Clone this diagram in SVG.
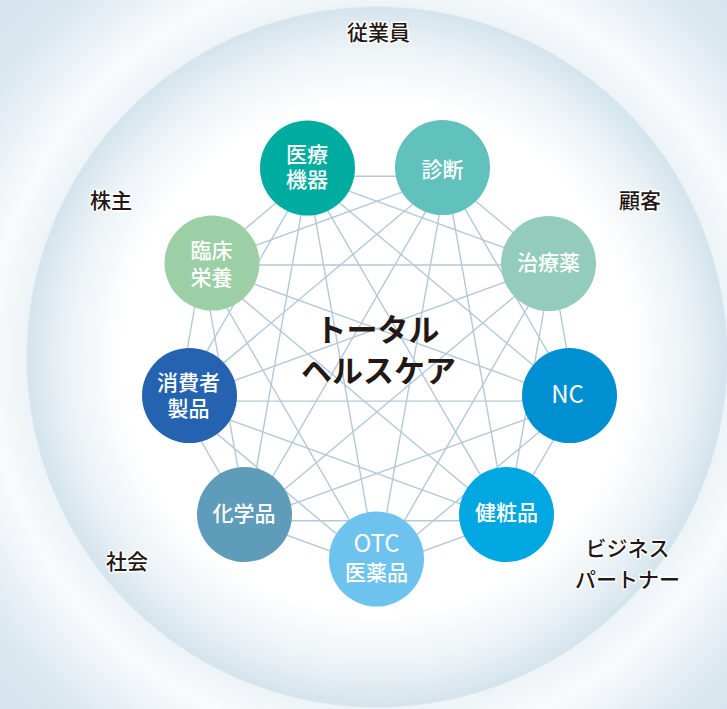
<svg xmlns="http://www.w3.org/2000/svg" width="727" height="709" viewBox="0 0 727 709">
<defs>
<radialGradient id="bg" gradientUnits="userSpaceOnUse" cx="377" cy="357" r="520">
<stop offset="0" stop-color="#ffffff"/>
<stop offset="0.49" stop-color="#ffffff"/>
<stop offset="0.6" stop-color="#ebf2f6"/>
<stop offset="0.672" stop-color="#d4e4ed"/>
<stop offset="0.675" stop-color="#edf3f7"/>
<stop offset="0.745" stop-color="#f9fbfd"/>
<stop offset="0.9" stop-color="#dae7ef"/>
<stop offset="1" stop-color="#d6e4ed"/>
</radialGradient>
<style>
.ln{stroke:#b3c9d7;stroke-width:1.4;fill:none}
.nt{font-family:"Noto Sans CJK JP","Noto Sans",sans-serif;font-size:21px;font-weight:500;fill:#ffffff;text-anchor:middle}
.lat{font-size:24px;font-weight:400}
.lb{font-family:"Noto Sans CJK JP","Noto Sans",sans-serif;font-size:21px;font-weight:500;fill:#231815;stroke:#ffffff;stroke-width:3;paint-order:stroke;stroke-linejoin:round;text-anchor:middle}
.ct{font-family:"Noto Sans CJK JP","Noto Sans",sans-serif;font-size:31px;font-weight:700;fill:#231815;text-anchor:middle}
</style>
</defs>
<rect x="0" y="0" width="727" height="709" fill="url(#bg)"/>

<g id="connectors">
<line class="ln" x1="307.9" y1="176.2" x2="446.1" y2="176.2"/>
<line class="ln" x1="307.9" y1="176.2" x2="551.9" y2="265"/>
<line class="ln" x1="307.9" y1="176.2" x2="575.9" y2="401.1"/>
<line class="ln" x1="307.9" y1="176.2" x2="506.8" y2="520.7"/>
<line class="ln" x1="307.9" y1="176.2" x2="377" y2="568"/>
<line class="ln" x1="307.9" y1="176.2" x2="247.2" y2="520.7"/>
<line class="ln" x1="307.9" y1="176.2" x2="178.1" y2="401.1"/>
<line class="ln" x1="307.9" y1="176.2" x2="202.1" y2="265"/>
<line class="ln" x1="446.1" y1="176.2" x2="551.9" y2="265"/>
<line class="ln" x1="446.1" y1="176.2" x2="575.9" y2="401.1"/>
<line class="ln" x1="446.1" y1="176.2" x2="506.8" y2="520.7"/>
<line class="ln" x1="446.1" y1="176.2" x2="377" y2="568"/>
<line class="ln" x1="446.1" y1="176.2" x2="247.2" y2="520.7"/>
<line class="ln" x1="446.1" y1="176.2" x2="178.1" y2="401.1"/>
<line class="ln" x1="446.1" y1="176.2" x2="202.1" y2="265"/>
<line class="ln" x1="551.9" y1="265" x2="575.9" y2="401.1"/>
<line class="ln" x1="551.9" y1="265" x2="506.8" y2="520.7"/>
<line class="ln" x1="551.9" y1="265" x2="377" y2="568"/>
<line class="ln" x1="551.9" y1="265" x2="247.2" y2="520.7"/>
<line class="ln" x1="551.9" y1="265" x2="178.1" y2="401.1"/>
<line class="ln" x1="551.9" y1="265" x2="202.1" y2="265"/>
<line class="ln" x1="575.9" y1="401.1" x2="506.8" y2="520.7"/>
<line class="ln" x1="575.9" y1="401.1" x2="377" y2="568"/>
<line class="ln" x1="575.9" y1="401.1" x2="247.2" y2="520.7"/>
<line class="ln" x1="575.9" y1="401.1" x2="178.1" y2="401.1"/>
<line class="ln" x1="575.9" y1="401.1" x2="202.1" y2="265"/>
<line class="ln" x1="506.8" y1="520.7" x2="377" y2="568"/>
<line class="ln" x1="506.8" y1="520.7" x2="247.2" y2="520.7"/>
<line class="ln" x1="506.8" y1="520.7" x2="178.1" y2="401.1"/>
<line class="ln" x1="506.8" y1="520.7" x2="202.1" y2="265"/>
<line class="ln" x1="377" y1="568" x2="247.2" y2="520.7"/>
<line class="ln" x1="377" y1="568" x2="178.1" y2="401.1"/>
<line class="ln" x1="377" y1="568" x2="202.1" y2="265"/>
<line class="ln" x1="247.2" y1="520.7" x2="178.1" y2="401.1"/>
<line class="ln" x1="247.2" y1="520.7" x2="202.1" y2="265"/>
<line class="ln" x1="178.1" y1="401.1" x2="202.1" y2="265"/>
</g>

<g id="center-title">
<text class="ct" x="377.5" y="340.5">トータル</text>
<text class="ct" x="378.5" y="382">ヘルスケア</text>
</g>

<g id="node-iryokiki">
<circle cx="307.5" cy="168" r="47.5" fill="#00ac9f"/>
<text class="nt" x="307" y="161.5">医療</text>
<text class="nt" x="307" y="186.5">機器</text>
</g>
<g id="node-shindan">
<circle cx="442.5" cy="167.5" r="47.5" fill="#61c1bc"/>
<text class="nt" x="442.5" y="176.5">診断</text>
</g>
<g id="node-chiryoyaku">
<circle cx="548.5" cy="263.5" r="47.5" fill="#93cbbc"/>
<text class="nt" x="548.5" y="270">治療薬</text>
</g>
<g id="node-nc">
<circle cx="569.5" cy="395.5" r="47.5" fill="#0090d1"/>
<text class="nt lat" x="567.5" y="403">NC</text>
</g>
<g id="node-kenshohin">
<circle cx="506.5" cy="514.5" r="47.5" fill="#00a7e1"/>
<text class="nt" x="506.5" y="520">健粧品</text>
</g>
<g id="node-otc">
<circle cx="376.5" cy="559" r="47.5" fill="#6dc3ee"/>
<text class="nt lat" x="376.5" y="552">OTC</text>
<text class="nt" x="376.5" y="580">医薬品</text>
</g>
<g id="node-kagakuhin">
<circle cx="244.5" cy="514.5" r="47.5" fill="#5f9cb9"/>
<text class="nt" x="244" y="520.5">化学品</text>
</g>
<g id="node-shohisha">
<circle cx="189.5" cy="395.5" r="47.5" fill="#2563b0"/>
<text class="nt" x="188.5" y="389.5">消費者</text>
<text class="nt" x="188.5" y="415.5">製品</text>
</g>
<g id="node-rinsho">
<circle cx="212" cy="263" r="47.5" fill="#9ccfa5"/>
<text class="nt" x="211.5" y="258">臨床</text>
<text class="nt" x="211.5" y="285">栄養</text>
</g>

<g id="stakeholders">
<text class="lb" x="378.5" y="40">従業員</text>
<text class="lb" x="111" y="208">株主</text>
<text class="lb" x="640" y="207.5">顧客</text>
<text class="lb" x="127" y="569">社会</text>
<text class="lb" x="627.5" y="555.5">ビジネス</text>
<text class="lb" x="627.5" y="586.5">パートナー</text>
</g>
</svg>
